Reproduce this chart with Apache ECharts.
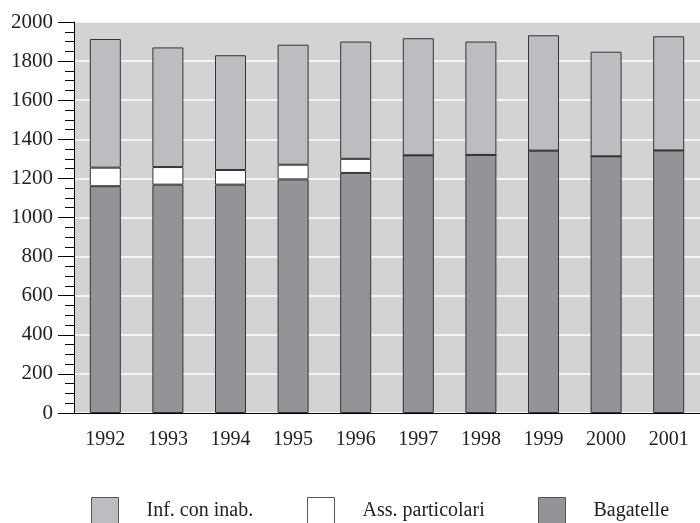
<!DOCTYPE html>
<html>
<head>
<meta charset="utf-8">
<script src="https://cdn.jsdelivr.net/npm/echarts@6/dist/echarts.min.js"></script>
<style>html,body{margin:0;padding:0;background:#fff}#c{width:700px;height:523px}</style>
</head>
<body>
<div id="c"></div>
<script>
var years = ['1992','1993','1994','1995','1996','1997','1998','1999','2000','2001'];
var bagatelle = [1160, 1168, 1168, 1195, 1228, 1318, 1320, 1342, 1313, 1343];
var assParticolari = [95, 90, 75, 75, 72, 0, 0, 0, 0, 0];
var infConInab = [658, 612, 587, 614, 600, 599, 580, 590, 535, 584];

var font = 'Liberation Serif';
var chart = echarts.init(document.getElementById('c'));
function leg(name, left) {
  return {
    data: [{ name: name, icon: 'rect' }], left: left, top: 497, orient: 'horizontal', padding: 0,
    itemWidth: 27, itemHeight: 27, selectedMode: false,
    itemStyle: { borderColor: '#555', borderWidth: 1 },
    textStyle: { fontFamily: font, fontSize: 20, color: '#222', padding: [0, 0, 0, 23] }
  };
}
var border = { borderColor: '#333', borderWidth: 1 };
chart.setOption({
  animation: false,
  grid: { left: 74, right: -3, top: 22, bottom: 110, show: true, backgroundColor: '#d2d3d5', borderWidth: 0 },
  legend: [leg('Inf. con inab.', 91), leg('Ass. particolari', 307), leg('Bagatelle', 538)],
  xAxis: {
    type: 'category', data: years,
    axisLine: { lineStyle: { color: '#000', width: 1 } },
    axisTick: { show: false },
    axisLabel: { fontFamily: font, fontSize: 20, color: '#222', margin: 17 }
  },
  yAxis: {
    type: 'value', min: 0, max: 2000, interval: 200,
    axisLine: { show: true, lineStyle: { color: '#000', width: 1 } },
    axisTick: { show: true, length: 16, lineStyle: { color: '#000' } },
    minorTick: { show: true, splitNumber: 4, length: 9, lineStyle: { color: '#000' } },
    splitLine: { show: true, lineStyle: { color: '#fff', width: 1.5 } },
    axisLabel: { fontFamily: font, fontSize: 21, color: '#222', margin: 21,
      formatter: function (v) { return String(v); } }
  },
  series: [
    { name: 'Bagatelle', type: 'bar', stack: 't', barWidth: 31, data: bagatelle,
      itemStyle: Object.assign({ color: '#939497' }, border) },
    { name: 'Ass. particolari', type: 'bar', stack: 't', barWidth: 31, data: assParticolari,
      itemStyle: Object.assign({ color: '#ffffff' }, border) },
    { name: 'Inf. con inab.', type: 'bar', stack: 't', barWidth: 31, data: infConInab,
      itemStyle: Object.assign({ color: '#bcbdc0' }, border) }
  ]
});
</script>
</body>
</html>
